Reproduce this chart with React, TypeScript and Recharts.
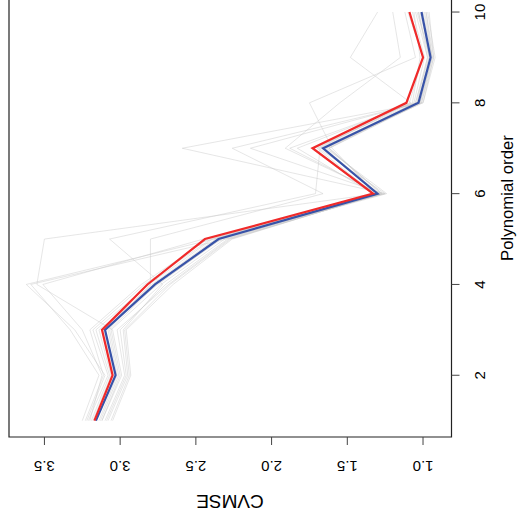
import React from 'react';
import { LineChart, Line, XAxis, YAxis, ReferenceArea } from 'recharts';

// polynomial orders on the x axis
const orders = [1, 2, 3, 4, 5, 6, 7, 8, 9, 10];

// CVMSE per order, the two highlighted curves
const blueCurve = [3.16, 3.03, 3.10, 2.77, 2.35, 1.30, 1.66, 1.03, 0.95, 1.01];
const redCurve = [3.17, 3.05, 3.12, 2.82, 2.44, 1.33, 1.73, 1.11, 1.00, 1.09];

// the faint curves behind them (one per resample)
const grayCurves = [
  [3.22, 3.10, 3.30, 3.62, 2.38, 1.27, 1.62, 1.02, 0.94, 1.00],
  [3.12, 2.99, 3.05, 3.55, 3.50, 1.30, 1.65, 1.05, 0.96, 1.03],
  [3.20, 3.12, 3.25, 3.51, 2.45, 1.25, 2.59, 1.00, 0.93, 0.98],
  [3.08, 2.95, 2.98, 2.72, 3.07, 1.71, 1.68, 1.04, 0.97, 1.05],
  [3.25, 3.14, 3.33, 3.59, 2.30, 1.32, 1.70, 1.08, 1.48, 1.30],
  [3.14, 3.02, 3.08, 2.80, 2.80, 1.66, 2.26, 1.02, 0.95, 1.02],
  [3.10, 2.97, 3.02, 2.68, 2.28, 1.28, 1.91, 1.55, 1.15, 1.20],
  [3.18, 3.06, 3.14, 2.75, 2.34, 1.24, 1.64, 1.01, 0.94, 0.99],
  [3.05, 2.93, 2.96, 2.65, 2.26, 1.29, 1.88, 1.06, 0.99, 1.07],
  [3.21, 3.08, 3.18, 2.84, 2.40, 1.31, 1.60, 1.75, 1.05, 1.12],
  [3.16, 3.04, 3.11, 2.78, 2.36, 1.26, 2.14, 1.03, 0.96, 1.01],
  [3.12, 3.00, 3.06, 2.73, 2.31, 1.30, 1.67, 1.00, 0.92, 0.97],
  [3.19, 3.07, 3.16, 2.81, 2.39, 1.33, 1.83, 1.07, 1.02, 1.06],
  [3.09, 2.96, 3.00, 2.70, 2.29, 1.27, 1.63, 1.04, 0.95, 1.04],
  [3.23, 3.11, 3.20, 2.86, 2.42, 1.25, 1.69, 1.09, 1.00, 1.10],
  [3.13, 3.01, 3.07, 2.76, 2.33, 1.29, 1.65, 1.02, 0.94, 0.98],
  [3.17, 3.05, 3.12, 2.79, 2.37, 1.32, 1.72, 1.05, 0.97, 1.03],
  [3.06, 2.94, 2.97, 2.67, 2.27, 1.28, 1.62, 1.01, 0.93, 0.96],
];

const xTicks = [2, 4, 6, 8, 10];
const yTicks = [1.0, 1.5, 2.0, 2.5, 3.0, 3.5];

const FONT = '"Liberation Sans", Arial, Helvetica, sans-serif';

const data = orders.map((o, i) => {
  const row: any = { order: o, blue: blueCurve[i], red: redCurve[i] };
  grayCurves.forEach((g, j) => {
    row['g' + j] = g[i];
  });
  return row;
});

const XTick = ({ x, payload }: any) => (
  <text x={x} y={480} dy="0.35em" textAnchor="middle" fontSize={15} fontFamily={FONT} fill="#000">
    {payload.value}
  </text>
);

const YTick = ({ y, payload }: any) => (
  <text
    x={59}
    y={y}
    dy="0.35em"
    textAnchor="middle"
    fontSize={15}
    fontFamily={FONT}
    fill="#000"
    transform={`rotate(-90, 59, ${y})`}
  >
    {Number(payload.value).toFixed(1)}
  </text>
);

const App: React.FC = () => {
  return (
    <div
      style={{
        position: 'absolute',
        top: 0,
        left: 0,
        width: 521,
        height: 525,
        overflow: 'hidden',
        background: '#fff',
      }}
    >
      {/* the original R plot, turned a quarter turn counter-clockwise */}
      <div
        style={{
          position: 'absolute',
          top: 0,
          left: 0,
          width: 540,
          height: 521,
          transformOrigin: '0 0',
          transform: 'translate(0px, 525px) rotate(-90deg)',
        }}
      >
        <LineChart
          width={540}
          height={521}
          data={data}
          margin={{ top: 9, right: 10.7, left: 28, bottom: 39.5 }}
        >
          <XAxis
            dataKey="order"
            type="number"
            domain={[0.64, 10.36]}
            ticks={xTicks}
            allowDataOverflow
            axisLine={false}
            tickLine={{ stroke: '#444' }}
            tickSize={8}
            height={30}
            tick={<XTick />}
            label={{
              content: () => (
                <text x={327} y={507} dy="0.35em" textAnchor="middle" fontSize={16.8} fontFamily={FONT} fill="#000">
                  Polynomial order
                </text>
              ),
            }}
          />
          <YAxis
            type="number"
            domain={[0.812, 3.734]}
            ticks={yTicks}
            allowDataOverflow
            axisLine={false}
            tickLine={{ stroke: '#444' }}
            tickSize={8}
            width={60}
            tick={<YTick />}
            label={{
              content: () => (
                <text
                  x={23}
                  y={230}
                  dy="0.35em"
                  textAnchor="middle"
                  fontSize={19}
                  fontFamily={FONT}
                  fill="#000"
                  transform="rotate(-90, 23, 230)"
                >
                  CVMSE
                </text>
              ),
            }}
          />
          <ReferenceArea
            x1={0.64}
            x2={10.36}
            y1={0.812}
            y2={3.734}
            fill="none"
            fillOpacity={0}
            stroke="#222"
            strokeWidth={1.2}
            ifOverflow="visible"
          />
          {grayCurves.map((_, j) => (
            <Line
              key={'g' + j}
              dataKey={'g' + j}
              stroke="#c8c8c8"
              strokeOpacity={0.45}
              strokeWidth={1}
              dot={false}
              isAnimationActive={false}
            />
          ))}
          <Line dataKey="blue" stroke="#3853a8" strokeWidth={2.2} dot={false} isAnimationActive={false} />
          <Line dataKey="red" stroke="#f02a2a" strokeWidth={2.2} dot={false} isAnimationActive={false} />
        </LineChart>
      </div>
    </div>
  );
};

export default App;
